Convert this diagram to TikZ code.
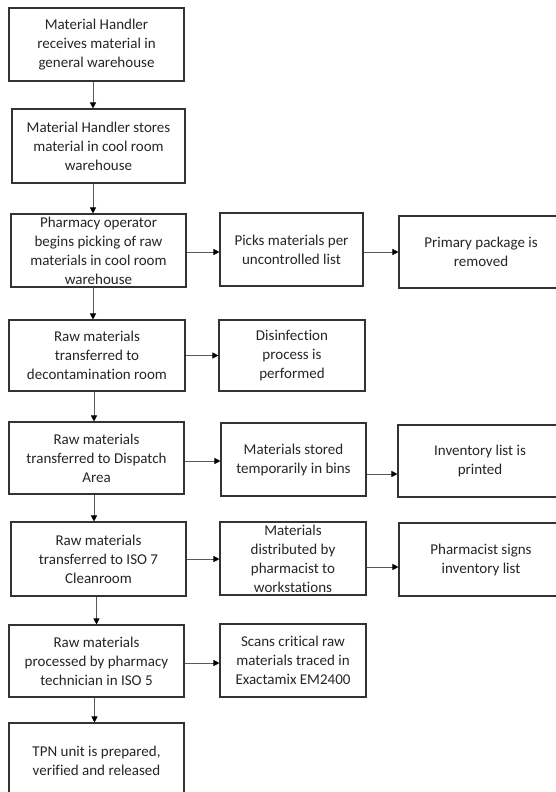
\documentclass[tikz,border=0pt]{standalone}
\usepackage{fontspec}
\setmainfont{Carlito}[Ligatures=NoCommon]
\usetikzlibrary{arrows.meta}
\begin{document}
\begin{tikzpicture}[x=1pt,y=-1pt,
  box/.style={draw=black!80, line width=1.1pt, rectangle, inner sep=0pt},
  txt/.style={align=center, font=\fontsize{15}{19}\selectfont, text=black!85, inner sep=0pt},
  arr/.style={draw=black!65, line width=0.7pt, -{Triangle[length=6pt,width=6pt,fill=black,color=black]}}]
\useasboundingbox (0,0) rectangle (556,792);
\clip (0,0) rectangle (556,792);
\fill[white] (0,0) rectangle (556,792);
% left column
\node[box, minimum width=175pt, minimum height=73pt, label={[txt]center:{Material Handler\\receives material in\\general warehouse}}] (b1) at (96.5,44.5) {};
\node[box, minimum width=173pt, minimum height=74pt, label={[txt]center:{Material Handler stores\\material in cool room\\warehouse}}] (b2) at (98.5,146) {};
\node[box, minimum width=175pt, minimum height=73pt, label={[txt]center:{Pharmacy operator\\begins picking of raw\\materials in cool room\\warehouse}}] (b3) at (98.5,250.5) {};
\node[box, minimum width=176pt, minimum height=71pt, label={[txt]center:{Raw materials\\transferred to\\decontamination room}}] (b4) at (97,355.5) {};
\node[box, minimum width=175pt, minimum height=72pt, label={[txt]center:{Raw materials\\transferred to Dispatch\\Area}}] (b5) at (96.5,458) {};
\node[box, minimum width=175pt, minimum height=74pt, label={[txt]center:{Raw materials\\transferred to ISO 7\\Cleanroom}}] (b6) at (98.5,559) {};
\node[box, minimum width=175pt, minimum height=72pt, label={[txt]center:{Raw materials\\processed by pharmacy\\technician in ISO 5}}] (b7) at (96.5,661) {};
\node[box, minimum width=175pt, minimum height=75pt, label={[txt]center:{TPN unit is prepared,\\verified and released}}] (b8) at (96.5,760.5) {};
% middle column
\node[box, minimum width=143pt, minimum height=73pt, label={[txt]center:{Picks materials per\\uncontrolled list}}] (m3) at (291.5,249.5) {};
\node[box, minimum width=146pt, minimum height=71pt, label={[txt]center:{Disinfection\\process is\\performed}}] (m4) at (292,355.5) {};
\node[box, minimum width=145pt, minimum height=73pt, label={[txt]center:{Materials stored\\temporarily in bins}}] (m5) at (293.5,459.5) {};
\node[box, minimum width=146pt, minimum height=73pt, label={[txt]center:{Materials\\distributed by\\pharmacist to\\workstations}}] (m6) at (293,558.5) {};
\node[box, minimum width=146pt, minimum height=73pt, label={[txt]center:{Scans critical raw\\materials traced in\\Exactamix EM2400}}] (m7) at (293,660.5) {};
% right column
\node[box, minimum width=164pt, minimum height=72pt, label={[txt]center:{Primary package is\\removed}}] (r3) at (481,252) {};
\node[box, minimum width=164pt, minimum height=72pt, label={[txt]center:{Inventory list is\\printed}}] (r5) at (480,461) {};
\node[box, minimum width=164pt, minimum height=73pt, label={[txt]center:{Pharmacist signs\\inventory list}}] (r6) at (481,559.5) {};
% vertical connectors
\draw[arr] ([xshift=-3.5pt]b1.south) -- ([xshift=-3.5pt]b1.south |- b2.north);
\draw[arr] ([xshift=-5.5pt]b2.south) -- ([xshift=-5.5pt]b2.south |- b3.north);
\draw[arr] ([xshift=-5.5pt]b3.south) -- ([xshift=-5.5pt]b3.south |- b4.north);
\draw[arr] ([xshift=-3pt]b4.south) -- ([xshift=-3pt]b4.south |- b5.north);
\draw[arr] ([xshift=-2.5pt]b5.south) -- ([xshift=-2.5pt]b5.south |- b6.north);
\draw[arr] ([xshift=-2pt]b6.south) -- ([xshift=-2pt]b6.south |- b7.north);
\draw[arr] ([xshift=-2pt]b7.south) -- ([xshift=-2pt]b7.south |- b8.north);
% horizontal connectors
\draw[arr] ([yshift=-1.5pt]b3.east) -- ([yshift=-1.5pt]b3.east -| m3.west);
\draw[arr] ([yshift=-2.5pt]m3.east) -- ([yshift=-2.5pt]m3.east -| r3.west);
\draw[arr] (b4.east) -- (b4.east -| m4.west);
\draw[arr] ([yshift=-3pt]b5.east) -- ([yshift=-3pt]b5.east -| m5.west);
\draw[arr] ([yshift=-14.5pt]m5.east) -- ([yshift=-14.5pt]m5.east -| r5.west);
\draw[arr] (b6.east) -- (b6.east -| m6.west);
\draw[arr] ([yshift=-8.5pt]m6.east) -- ([yshift=-8.5pt]m6.east -| r6.west);
\draw[arr] ([yshift=-2pt]b7.east) -- ([yshift=-2pt]b7.east -| m7.west);
\end{tikzpicture}
\end{document}
